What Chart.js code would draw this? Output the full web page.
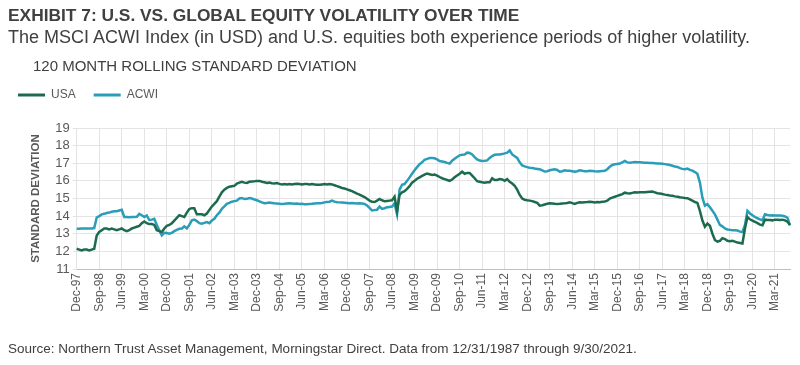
<!DOCTYPE html>
<html>
<head>
<meta charset="utf-8">
<script src="https://cdn.jsdelivr.net/npm/chart.js@4"></script>
<style>
     body { margin: 0; background: #fff; }
     .wrap { position: relative; width: 800px; height: 365px; overflow: hidden; }
     .txt { position: absolute; white-space: nowrap; color: #404040; }
     #title { left: 8px; top: 6px; font: bold 17.35px "Liberation Sans Narrow", "Liberation Sans", sans-serif; line-height: 18px; }
     #subtitle { left: 8px; top: 28px; font: 18px "Liberation Sans Narrow", "Liberation Sans", sans-serif; line-height: 18px; }
     #chartTitle { left: 33px; top: 58px; font: 15px "Liberation Sans Narrow", "Liberation Sans", sans-serif; line-height: 15px; }
     #source { left: 8px; top: 342px; font: 13.5px "Liberation Sans", Arial, sans-serif; line-height: 14px; }
     canvas { position: absolute; left: 0; top: 0; }
</style>
</head>
<body>
<div class="wrap">
     <canvas id="chart" width="800" height="365"></canvas>
     <div class="txt" id="title">EXHIBIT 7: U.S. VS. GLOBAL EQUITY VOLATILITY OVER TIME</div>
     <div class="txt" id="subtitle">The MSCI ACWI Index (in USD) and U.S. equities both experience periods of higher volatility.</div>
     <div class="txt" id="chartTitle">120 MONTH ROLLING STANDARD DEVIATION</div>
     <div class="txt" id="source">Source: Northern Trust Asset Management, Morningstar Direct. Data from 12/31/1987 through 9/30/2021.</div>
</div>
<script>
const monthNames = ["Jan", "Feb", "Mar", "Apr", "May", "Jun", "Jul", "Aug", "Sep", "Oct", "Nov", "Dec"]

// monthly, Dec-97 .. Sep-21
const months = []
for (let i = 0; i < 286; i++) {
     const m = (11 + i) % 12
     const y = 1997 + Math.floor((11 + i) / 12)
     months.push(monthNames[m] + "-" + String(y).slice(2))
}

const usa = [
     12.15,
     12.1, 12.05, 12.1, 12.1, 12.05, 12.1, 12.15, 12.9, 13.1, 13.2, 13.3, 13.3,
     13.25, 13.3, 13.25, 13.2, 13.25, 13.3, 13.2, 13.15, 13.2, 13.3, 13.35, 13.4,
     13.45, 13.6, 13.7, 13.6, 13.55, 13.55, 13.5, 13.2, 13.15, 13.1, 13.3, 13.45,
     13.5, 13.6, 13.75, 13.9, 14.05, 14.0, 13.95, 14.2, 14.4, 14.45, 14.45, 14.1,
     14.1, 14.1, 14.05, 14.15, 14.35, 14.55, 14.7, 14.85, 15.1, 15.35, 15.5, 15.6,
     15.67, 15.7, 15.72, 15.85, 15.9, 15.95, 15.9, 15.88, 15.95, 15.97, 15.98, 16.0,
     16.0, 15.95, 15.92, 15.88, 15.9, 15.87, 15.85, 15.88, 15.83, 15.8, 15.82, 15.8,
     15.82, 15.8, 15.82, 15.83, 15.82, 15.8, 15.82, 15.82, 15.8, 15.82, 15.8, 15.78,
     15.78, 15.8, 15.82, 15.8, 15.82, 15.8, 15.75, 15.7, 15.65, 15.6, 15.57, 15.52,
     15.47, 15.42, 15.35, 15.28, 15.22, 15.15, 15.08, 14.98, 14.88, 14.82, 14.8, 14.88,
     14.97, 14.9, 14.84, 14.86, 14.88, 14.9, 15.1, 14.3, 15.2, 15.35, 15.42, 15.55,
     15.7, 15.9, 16.0, 16.12, 16.2, 16.28, 16.35, 16.42, 16.38, 16.34, 16.36, 16.3,
     16.22, 16.15, 16.1, 16.05, 16.0, 16.08, 16.2, 16.3, 16.4, 16.52, 16.4, 16.45,
     16.45, 16.3, 16.15, 15.98, 15.95, 15.92, 15.9, 15.92, 15.92, 16.15, 16.05, 16.05,
     16.1, 16.08, 16.0, 16.1, 15.95, 15.85, 15.72, 15.5, 15.2, 15.0, 14.93, 14.9,
     14.88, 14.85, 14.8, 14.75, 14.6, 14.62, 14.66, 14.7, 14.73, 14.72, 14.7, 14.69,
     14.7, 14.72, 14.73, 14.75, 14.78, 14.74, 14.69, 14.75, 14.79, 14.77, 14.79, 14.8,
     14.82, 14.8, 14.78, 14.8, 14.79, 14.82, 14.83, 14.88, 15.0, 15.05, 15.1, 15.15,
     15.2, 15.25, 15.33, 15.3, 15.28, 15.32, 15.35, 15.34, 15.35, 15.36, 15.35, 15.37,
     15.38, 15.39, 15.35, 15.3, 15.28, 15.25, 15.22, 15.2, 15.17, 15.15, 15.12, 15.1,
     15.07, 15.05, 15.03, 15.02, 14.95, 14.88, 14.8, 14.75, 14.3, 13.75, 13.4, 13.58,
     13.45, 13.0, 12.65, 12.55, 12.6, 12.75, 12.7, 12.6, 12.58, 12.6, 12.55, 12.5,
     12.48, 12.45, 13.3, 13.95, 13.82, 13.75, 13.68, 13.6, 13.52, 13.48, 13.8, 13.78,
     13.78, 13.76, 13.8, 13.8, 13.78, 13.8, 13.76, 13.68, 13.5
]

const acwi = [
     13.28,
     13.28, 13.3, 13.3, 13.3, 13.3, 13.3, 13.32, 13.92, 14.0, 14.1, 14.13, 14.18,
     14.2, 14.25, 14.27, 14.28, 14.32, 14.36, 13.95, 13.95, 13.93, 13.95, 13.95, 13.96,
     14.13, 14.05, 13.95, 14.04, 13.78, 13.8, 13.85, 13.5, 13.2, 12.91, 13.05, 13.04,
     13.0, 13.05, 13.15, 13.22, 13.28, 13.3, 13.42, 13.3, 13.5, 13.76, 13.8, 13.72,
     13.6, 13.57, 13.62, 13.66, 13.6, 13.75, 13.85, 14.05, 14.2, 14.42, 14.55, 14.7,
     14.75, 14.82, 14.85, 14.88, 15.0, 15.03, 14.97, 14.98, 15.03, 15.0, 14.94, 14.9,
     14.84, 14.78, 14.73, 14.75, 14.77, 14.75, 14.73, 14.72, 14.7, 14.69, 14.7, 14.72,
     14.73, 14.72, 14.7, 14.71, 14.69, 14.7, 14.68, 14.67, 14.69, 14.7, 14.72, 14.73,
     14.73, 14.75, 14.78, 14.8, 14.82, 14.88, 14.82, 14.79, 14.78, 14.77, 14.76, 14.75,
     14.73, 14.74, 14.73, 14.72, 14.73, 14.71, 14.69, 14.6, 14.47, 14.32, 14.34, 14.36,
     14.54, 14.41, 14.45, 14.5, 14.52, 14.54, 14.72, 14.1, 15.5, 15.78, 15.82, 16.0,
     16.2, 16.4, 16.6, 16.78, 16.95, 17.05, 17.2, 17.25, 17.3, 17.3, 17.28, 17.22,
     17.13, 17.1, 17.07, 17.02, 16.98, 17.15, 17.25, 17.35, 17.45, 17.48, 17.5, 17.6,
     17.58, 17.5, 17.35, 17.22, 17.15, 17.13, 17.14, 17.16, 17.3, 17.41, 17.48, 17.5,
     17.5, 17.52, 17.56, 17.6, 17.73, 17.5, 17.4, 17.3, 17.05, 16.88, 16.82, 16.78,
     16.75, 16.73, 16.7, 16.68, 16.66, 16.6, 16.53, 16.55, 16.6, 16.63, 16.66, 16.62,
     16.52, 16.55, 16.6, 16.58, 16.57, 16.55, 16.52, 16.55, 16.6, 16.57, 16.54, 16.55,
     16.57, 16.56, 16.54, 16.53, 16.55, 16.56, 16.57, 16.66, 16.8, 16.9, 16.94, 16.96,
     16.98, 17.05, 17.13, 17.05, 17.03, 17.05, 17.07, 17.06, 17.05, 17.04, 17.03, 17.03,
     17.02, 17.01, 17.0, 16.99, 16.98, 16.97, 16.95, 16.93, 16.9, 16.86, 16.82, 16.79,
     16.72, 16.68, 16.66, 16.7, 16.62, 16.58, 16.5, 16.4, 15.9, 15.05, 14.6, 14.68,
     14.5, 14.3, 14.1, 13.8, 13.5, 13.42, 13.3, 13.24, 13.22, 13.2, 13.2, 13.18,
     13.12, 13.1, 13.5, 14.3, 14.15, 14.05, 13.95, 13.88, 13.82, 13.76, 14.1, 14.06,
     14.04, 14.05, 14.04, 14.03, 14.04, 14.02, 13.98, 13.9, 13.48
]

const tickEvery = 9
const usaColor = "#1d6b4f"
const acwiColor = "#2a9db8"
const gridColor = "#e4e4e4"

const chart = new Chart(document.getElementById("chart"), {
     type: "line",
     data: {
          labels: months,
          datasets: [
               {
                    label: "USA",
                    data: usa,
                    borderColor: usaColor,
                    backgroundColor: usaColor,
                    borderWidth: 2.5,
                    pointRadius: 0,
                    tension: 0
               },
               {
                    label: "ACWI",
                    data: acwi,
                    borderColor: acwiColor,
                    backgroundColor: acwiColor,
                    borderWidth: 2.5,
                    pointRadius: 0,
                    tension: 0
               }
          ]
     },
     options: {
          responsive: false,
          animation: false,
          layout: {
               padding: { top: 71, left: 0, right: 10, bottom: 30 }
          },
          plugins: {
               title: { display: false },
               // empty spacer between legend and plot
               subtitle: {
                    display: true,
                    text: " ",
                    weight: 500,
                    padding: { top: 0, bottom: 5 },
                    font: { size: 10 }
               },
               tooltip: { enabled: false },
               legend: {
                    align: "start",
                    labels: {
                         boxWidth: 27,
                         boxHeight: 3,
                         padding: 18,
                         color: "#595959",
                         font: { family: "'Liberation Sans Narrow', 'Liberation Sans', sans-serif", size: 12 },
                         generateLabels: function (c) {
                              const items = Chart.defaults.plugins.legend.labels.generateLabels(c)
                              items.forEach(function (it) { it.lineWidth = 0 })
                              return items
                         }
                    }
               }
          },
          scales: {
               x: {
                    afterFit: function (scale) {
                         scale.height = 66
                         scale.paddingLeft = 0
                         scale.paddingRight = 0
                    },
                    grid: {
                         color: function (ctx) { return ctx.index % tickEvery === 0 ? gridColor : "rgba(0,0,0,0)" },
                         drawTicks: false
                    },
                    border: { color: "#bfbfbf" },
                    ticks: {
                         autoSkip: false,
                         maxRotation: 90,
                         minRotation: 90,
                         padding: 4,
                         color: "#595959",
                         font: { family: "'Liberation Sans', Arial, sans-serif", size: 12 },
                         callback: function (val, idx) {
                              return idx % tickEvery === 0 ? this.getLabelForValue(val) : ""
                         }
                    }
               },
               y: {
                    min: 11,
                    max: 19,
                    afterFit: function (scale) { scale.width = 76.7 },
                    grid: { color: gridColor, tickLength: 4 },
                    border: { color: gridColor },
                    ticks: {
                         stepSize: 1,
                         autoSkip: false,
                         padding: 3,
                         color: "#595959",
                         font: { family: "'Liberation Sans', Arial, sans-serif", size: 13 }
                    },
                    title: {
                         display: true,
                         text: "STANDARD DEVIATION",
                         color: "#595959",
                         padding: { top: 29, bottom: 0 },
                         font: { family: "'Liberation Sans', Arial, sans-serif", size: 11.5, weight: "bold" }
                    }
               }
          }
     }
})
</script>
</body>
</html>
